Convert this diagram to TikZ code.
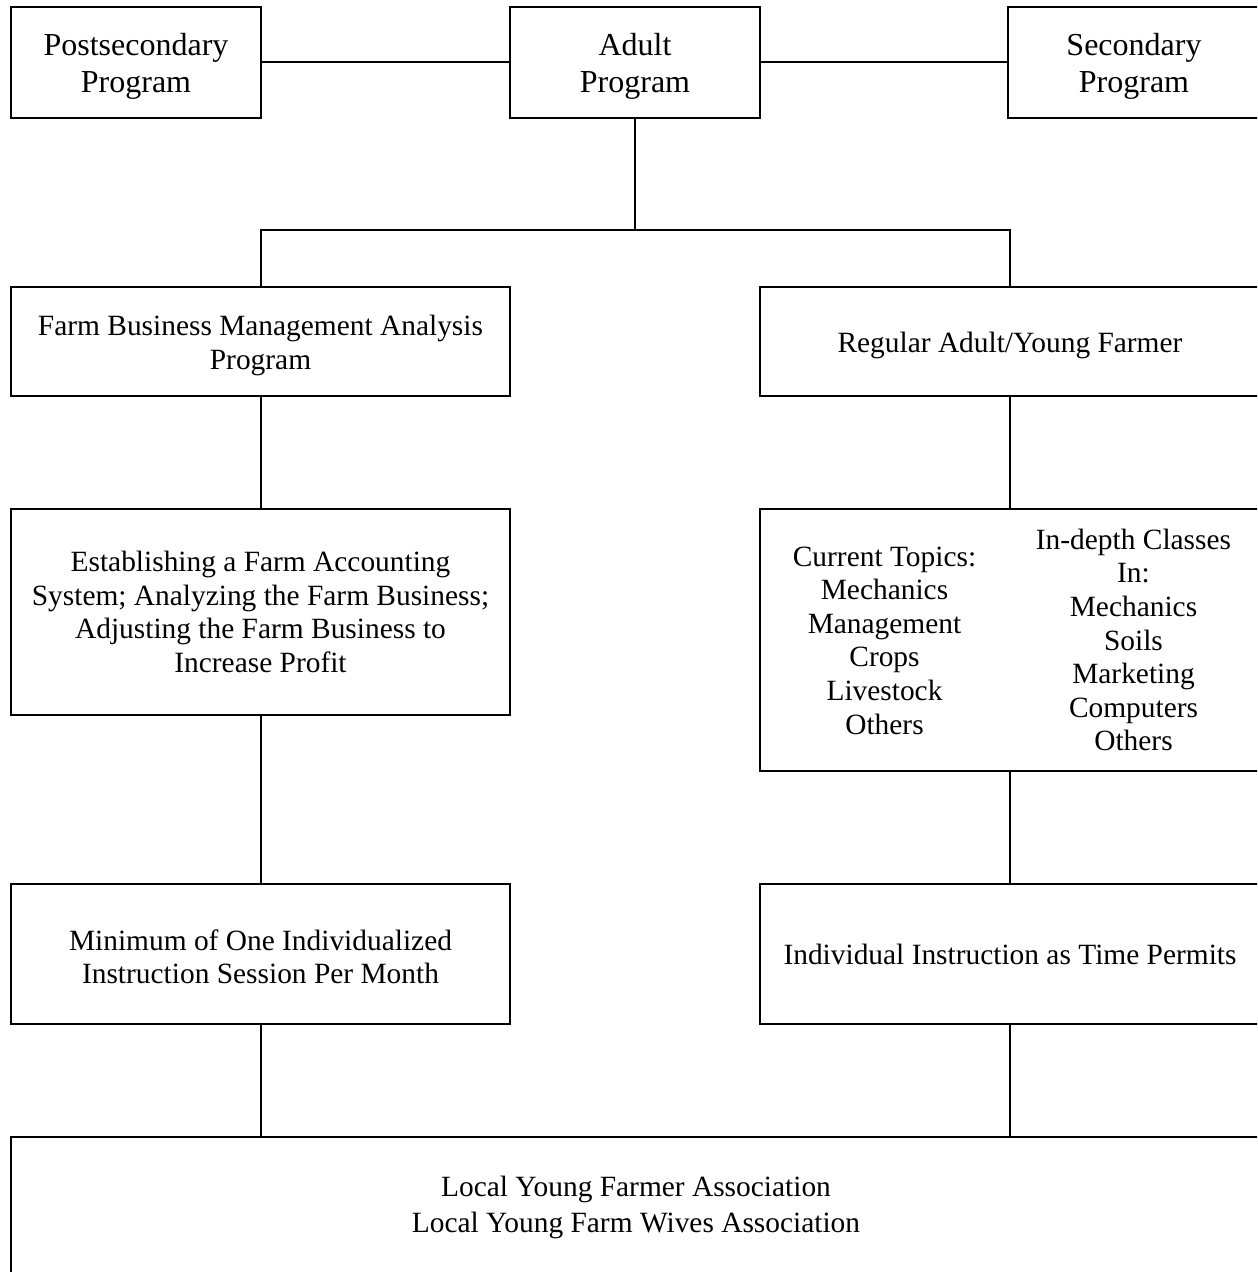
\documentclass[tikz,border=0pt]{standalone}
\usepackage{fontspec}
\setmainfont{Liberation Serif}
\usetikzlibrary{positioning}
\newcommand{\tallstrut}[1]{\rule{0pt}{#1}}

\begin{document}
\begin{tikzpicture}[x=0.5pt,y=-0.5pt,line width=1pt,
  box/.style={draw,minimum width=125pt,minimum height=55.5pt,align=center,inner sep=0pt,font=\fontsize{16}{18.5}\selectfont},
  wide/.style={draw,minimum width=250pt,align=center,inner sep=0pt,font=\fontsize{14.7}{16.8}\selectfont},
  txt/.style={align=center,inner sep=0pt,font=\fontsize{14.7}{16.8}\selectfont}]
\useasboundingbox (0,0) rectangle (1257,1272);
\clip (0,0) rectangle (1257,1272);
\node[box](postsec) at (136,62.5){\tallstrut{15pt}Postsecondary\\Program};
\node[box](adult) at (635,62.5){\tallstrut{15pt}Adult\\Program};
\node[box,minimum width=126pt](secondary) at (1134,62.5){\tallstrut{15pt}Secondary\\Program};
\draw(postsec)--(adult);
\draw(adult)--(secondary);
\coordinate (bus) at (635,230);
\node[wide,minimum width=249.5pt,minimum height=54.5pt](fbma) at (260.5,341.5){\tallstrut{14pt}Farm Business Management Analysis\\Program};
\node[wide,minimum height=54.5pt](regular) at (1010,341.5){\tallstrut{14pt}Regular Adult/Young Farmer};
\draw(adult.south)--(bus);
\draw(fbma.north)--(fbma.north|-bus)--(regular.north|-bus)--(regular.north);
\node[wide,minimum width=249.5pt,minimum height=103pt](accounting) at (260.5,612){Establishing a Farm Accounting\\System; Analyzing the Farm Business;\\Adjusting the Farm Business to\\Increase Profit};
\node[wide,minimum height=131pt](topics) at (1010,640){};
\node[txt](current) at (884.5,640.5){Current Topics:\\Mechanics\\Management\\Crops\\Livestock\\Others};
\node[txt](indepth) at (1133.5,640){In-depth Classes\\In:\\Mechanics\\Soils\\Marketing\\Computers\\Others};
\draw(fbma)--(accounting);
\draw(regular)--(topics);
\node[wide,minimum width=249.5pt,minimum height=70pt](minimum) at (260.5,954){\tallstrut{13pt}Minimum of One Individualized\\Instruction Session Per Month};
\node[wide,minimum height=70pt](individual) at (1010,954){Individual Instruction as Time Permits};
\draw(accounting)--(minimum);
\draw(topics)--(individual);
\node[wide,minimum width=625pt,minimum height=69pt,font=\fontsize{14.7}{18}\selectfont](assoc) at (636,1206){\tallstrut{12pt}Local Young Farmer Association\\Local Young Farm Wives Association};
\draw(minimum.south)--(minimum.south|-assoc.north);
\draw(individual.south)--(individual.south|-assoc.north);
\end{tikzpicture}
\end{document}
